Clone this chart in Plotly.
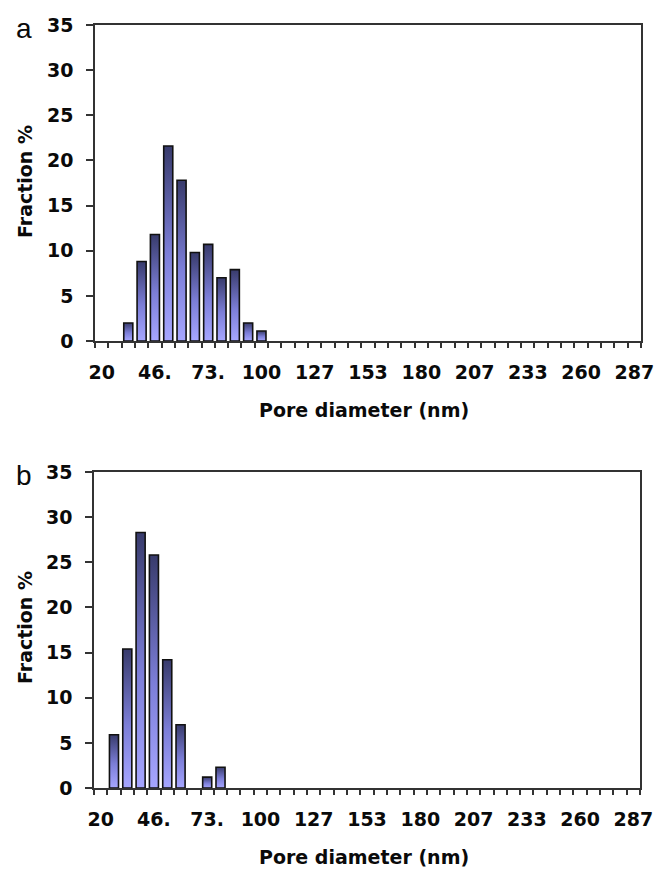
import plotly.graph_objects as go

# ---- data ----
categories = [20.0, 26.7, 33.3, 40.0, 46.7, 53.3, 60.0, 66.7, 73.3, 80.0,
              86.7, 93.3, 100.0, 106.7, 113.3, 120.0, 126.7, 133.3, 140.0, 146.7,
              153.3, 160.0, 166.7, 173.3, 180.0, 186.7, 193.3, 200.0, 206.7, 213.3,
              220.0, 226.7, 233.3, 240.0, 246.7, 253.3, 260.0, 266.7, 273.3, 280.0,
              286.7]
tick_categories = [20.0, 46.7, 73.3, 100.0, 126.7, 153.3, 180.0, 206.7, 233.3, 260.0, 286.7]
tick_labels = ["20", "46.", "73.", "100", "127", "153", "180", "207", "233", "260", "287"]

fraction_a = [0, 0, 2.0, 8.8, 11.8, 21.6, 17.8, 9.8, 10.7, 7.0,
              7.9, 2.0, 1.1, 0, 0, 0, 0, 0, 0, 0,
              0, 0, 0, 0, 0, 0, 0, 0, 0, 0,
              0, 0, 0, 0, 0, 0, 0, 0, 0, 0,
              0]
fraction_b = [0, 5.9, 15.4, 28.3, 25.8, 14.2, 7.0, 0, 1.2, 2.3,
              0, 0, 0, 0, 0, 0, 0, 0, 0, 0,
              0, 0, 0, 0, 0, 0, 0, 0, 0, 0,
              0, 0, 0, 0, 0, 0, 0, 0, 0, 0,
              0]

y_ticks = [0, 5, 10, 15, 20, 25, 30, 35]

# ---- style ----
W, H = 656, 870
FONT = "DejaVu Sans"
AXIS_COLOR = "#333333"
HALF = 0.34
GRADIENT = [[0, "#a6a6ff"], [0.45, "#7c7ed8"], [1, "#383b6c"]]

fig = go.Figure()


def add_bars(values, xref, yref):
    for i, v in enumerate(values):
        if v <= 0:
            continue
        fig.add_trace(go.Scatter(
            x=[i - HALF, i - HALF, i + HALF, i + HALF, i - HALF],
            y=[0, v, v, 0, 0],
            xaxis=xref, yaxis=yref,
            mode="lines", fill="toself",
            fillgradient=dict(type="vertical", colorscale=GRADIENT,
                              start=0, stop=v),
            line=dict(color="#111111", width=1.6),
            hoverinfo="skip", showlegend=False,
        ))


add_bars(fraction_a, "x", "y")
add_bars(fraction_b, "x2", "y2")

tickvals = [categories.index(c) for c in tick_categories]

xcommon = dict(
    range=[-0.5, len(categories) - 0.5],
    tickmode="array", tickvals=tickvals, ticktext=tick_labels,
    ticks="", showgrid=False, zeroline=False, automargin=False,
    showline=True, mirror=True, linecolor=AXIS_COLOR, linewidth=1.6,
    tickfont=dict(family=FONT, size=19, color="#0a0a0a", weight="bold"),
    ticklabelstandoff=13,
    minor=dict(tick0=-0.5, dtick=1, ticks="outside", ticklen=5,
               tickcolor=AXIS_COLOR, tickwidth=1.5, showgrid=False),
    fixedrange=True,
)
ycommon = dict(
    range=[0, 35], tickmode="array", tickvals=y_ticks,
    ticks="outside", ticklen=7, tickcolor=AXIS_COLOR, tickwidth=1.5,
    showgrid=False, zeroline=False, automargin=False,
    showline=True, mirror=True, linecolor=AXIS_COLOR, linewidth=1.6,
    tickfont=dict(family=FONT, size=19, color="#0a0a0a", weight="bold"),
    ticklabelstandoff=9,
    fixedrange=True,
)

xa = [95 / W, 641 / W]
xb = [94 / W, 640 / W]
ya = [1 - 341 / H, 1 - 25 / H]
yb = [1 - 788 / H, 1 - 472 / H]

fig.update_layout(
    width=W, height=H,
    margin=dict(l=0, r=0, t=0, b=0, pad=0, autoexpand=False),
    paper_bgcolor="white", plot_bgcolor="white",
    xaxis=dict(domain=xa, anchor="y", **xcommon),
    yaxis=dict(domain=ya, anchor="x", **ycommon),
    xaxis2=dict(domain=xb, anchor="y2", **xcommon),
    yaxis2=dict(domain=yb, anchor="x2", **ycommon),
    showlegend=False,
)

title_font = dict(family=FONT, size=19, color="#0a0a0a", weight="bold")
for (px_x, px_y, txt, rot) in [
    (25, 182, "Fraction %", -90),
    (25, 628, "Fraction %", -90),
    (364, 410, "Pore diameter (nm)", 0),
    (364, 857, "Pore diameter (nm)", 0),
]:
    fig.add_annotation(x=px_x / W, y=1 - px_y / H, xref="paper", yref="paper",
                       text=txt, showarrow=False, textangle=rot,
                       xanchor="center", yanchor="middle", font=title_font)

for (px_x, px_y, txt) in [(24, 29, "a"), (24, 475, "b")]:
    fig.add_annotation(x=px_x / W, y=1 - px_y / H, xref="paper", yref="paper",
                       text=txt, showarrow=False, xanchor="center", yanchor="middle",
                       font=dict(family="Liberation Sans", size=28, color="#0a0a0a"))

fig.write_html(
    "out.html",
    config={"displayModeBar": False},
    post_script="document.body.style.margin='0';document.body.style.overflow='hidden';",
)
